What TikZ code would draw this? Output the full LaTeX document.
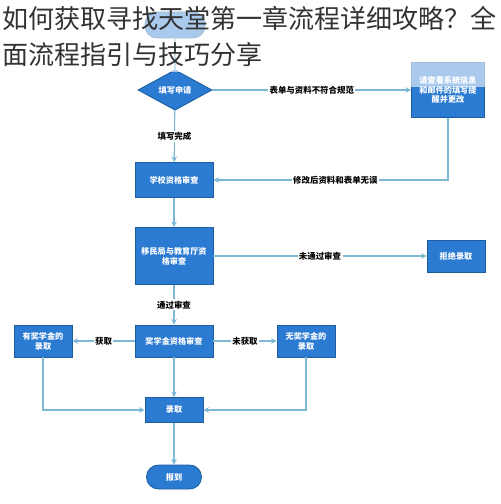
\documentclass[tikz,border=0pt]{standalone}
\usepackage{fontspec}
\setmainfont{Noto Sans CJK SC}
\usetikzlibrary{shapes.geometric, arrows.meta}

\definecolor{boxblue}{HTML}{2B7BD3}
\definecolor{boxedge}{HTML}{1D5C9E}
\definecolor{linkblue}{HTML}{7DB9D6}

\begin{document}
\begin{tikzpicture}[
  x=0.025cm, y=-0.025cm,
  process/.style={rectangle, draw=boxedge, fill=boxblue, line width=0.6pt, text=white, minimum width=1.95cm, minimum height=0.875cm, inner sep=1pt, align=center, font=\fontsize{5.8}{7}\selectfont\bfseries},
  smallbox/.style={process, minimum width=1.45cm, minimum height=0.8cm},
  decision/.style={diamond, draw=boxedge, fill=boxblue, line width=0.6pt, text=white, minimum width=1.85cm, minimum height=0.85cm, inner sep=0pt, font=\fontsize{5.8}{7}\selectfont\bfseries},
  startend/.style={rectangle, rounded corners=0.3cm, draw=boxedge, fill=boxblue, line width=0.6pt, text=white, minimum width=1.375cm, minimum height=0.6cm, font=\fontsize{5.8}{7}\selectfont\bfseries},
  lbl/.style={fill=white, inner sep=1pt, text=black, font=\fontsize{6}{7}\selectfont\bfseries},
  arrow/.style={draw=linkblue, line width=0.8pt, -{Stealth[length=4pt, width=4pt]}}
]
  \useasboundingbox (0,0) rectangle (500,504);

  \node [startend, minimum width=1.5cm, minimum height=0.65cm] (start) at (175,25) {};
  \node [decision] (apply) at (175,90) {填写申请};
  \node [process, minimum width=1.825cm, minimum height=1.375cm] (remind) at (448,90) {请查看系统信息\\和邮件的填写提\\醒并更改};
  \node [process] (school) at (174,180) {学校资格审查};
  \node [process, minimum height=1.425cm] (bureau) at (174,256) {移民局与教育厅资\\格审查};
  \node [smallbox] (reject) at (456,256) {拒绝录取};
  \node [process, minimum height=0.8cm] (scholar) at (174,341) {奖学金资格审查};
  \node [smallbox] (withs) at (43,341) {有奖学金的\\录取};
  \node [smallbox] (nos) at (306,341) {无奖学金的\\录取};
  \node [process, minimum width=1.45cm, minimum height=0.625cm] (admit) at (174,410) {录取};
  \node [startend] (report) at (174,477) {报到};

  \draw [draw=linkblue, line width=0.8pt] (start) -- (apply);
  \draw [arrow] (apply) -- node[lbl]{表单与资料不符合规范} (remind);
  \draw [arrow] (apply) -- node[lbl]{填写完成} (school);
  \draw [arrow] (remind.south) |- node[lbl, pos=0.74]{修改后资料和表单无误} (school.east);
  \draw [arrow] (school) -- (bureau);
  \draw [arrow] (bureau) -- node[lbl]{未通过审查} (reject);
  \draw [arrow] (bureau) -- node[lbl]{通过审查} (scholar);
  \draw [arrow] (scholar) -- node[lbl]{获取} (withs);
  \draw [arrow] (scholar) -- node[lbl]{未获取} (nos);
  \draw [arrow] (scholar) -- (admit);
  \draw [arrow] (withs) |- (admit);
  \draw [arrow] (nos) |- (admit);
  \draw [arrow] (admit) -- (report);

  % title laid over the top of the chart
  \fill [white, opacity=0.6] (0,0) rectangle (500,36) (0,36) rectangle (270,72) (410,58) rectangle (488,87);
  \node [anchor=west, inner sep=0pt, text=black!80, font=\fontsize{18.5}{20}\selectfont] (title1) at (2,18) {如何获取寻找天堂第一章流程详细攻略？全};
  \node [anchor=west, inner sep=0pt, text=black!80, font=\fontsize{18.5}{20}\selectfont] (title2) at (2,55) {面流程指引与技巧分享};
\end{tikzpicture}
\end{document}
